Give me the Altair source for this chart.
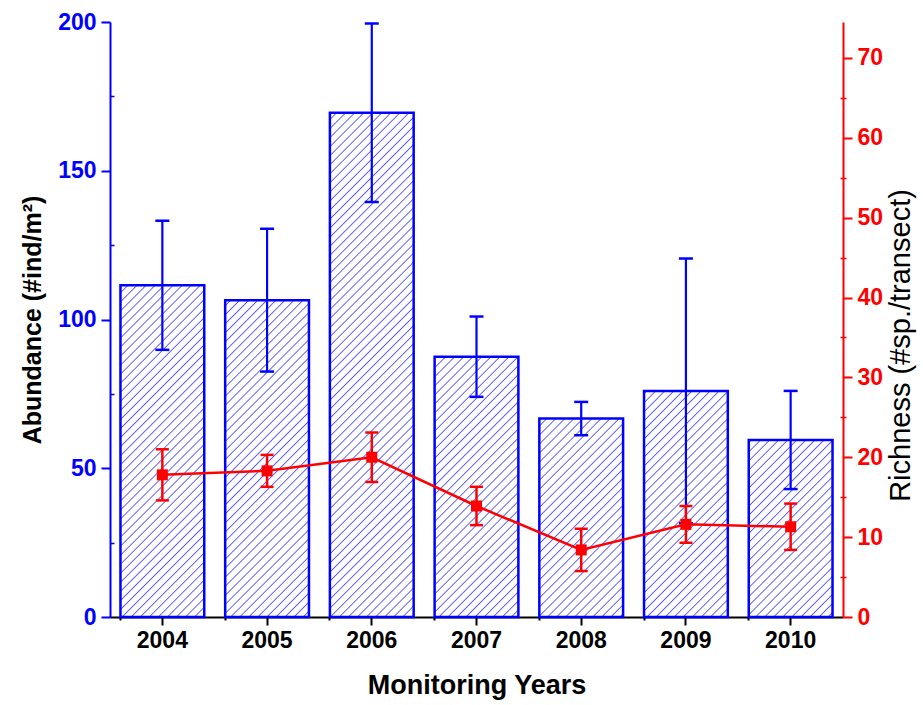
import altair as alt
import pandas as pd
import altair.utils.html as _html

# ---------------- data ----------------
years = ["2004", "2005", "2006", "2007", "2008", "2009", "2010"]
abundance_mean = [111.5, 106.5, 169.5, 87.5, 66.7, 76.0, 59.5]
abundance_err = [21.7, 24.0, 30.0, 13.5, 5.6, 44.5, 16.5]
richness_mean = [17.8, 18.3, 20.0, 13.9, 8.4, 11.6, 11.3]
richness_err = [3.2, 2.0, 3.1, 2.4, 2.65, 2.3, 2.9]

abundance_ticks = [0, 50, 100, 150, 200]
abundance_minor = [25, 75, 125, 175]
richness_ticks = [0, 10, 20, 30, 40, 50, 60, 70]
richness_minor = [5, 15, 25, 35, 45, 55, 65]

df = pd.DataFrame({
    "year": years,
    "abundance": abundance_mean,
    "a_err": abundance_err,
    "richness": richness_mean,
    "r_err": richness_err,
})
df["a_lo"] = df["abundance"] - df["a_err"]
df["a_hi"] = df["abundance"] + df["a_err"]
df["r_lo"] = df["richness"] - df["r_err"]
df["r_hi"] = df["richness"] + df["r_err"]

# ---------------- hatch pattern (SVG defs added to the page) ----------------
HATCH_DEFS = (
    '<svg width="0" height="0" style="position:absolute;left:0;top:0">'
    '<defs><pattern id="hatch" patternUnits="userSpaceOnUse" width="6.4" height="6.4" '
    'patternTransform="rotate(45)">'
    '<line x1="0" y1="-1" x2="0" y2="8" stroke="#0000ff" stroke-width="1.2"/>'
    '</pattern></defs></svg>'
)
_orig_tpl = _html.TEMPLATES["standard"]


class _HatchTemplate:
    def render(self, *args, **kwargs):
        page = _orig_tpl.render(*args, **kwargs)
        if "<body>" in page:
            return page.replace("<body>", "<body>\n" + HATCH_DEFS, 1)
        return HATCH_DEFS + page


_html.TEMPLATES["standard"] = _HatchTemplate()

# ---------------- styling ----------------
BLUE = "#0000ff"
RED = "#ff0000"
SANS = "'Liberation Sans', Arial, sans-serif"

xscale = alt.Scale(paddingInner=0.2, paddingOuter=0.1)
yscale_left = alt.Scale(domain=[0, 200], nice=False, zero=True)
yscale_right = alt.Scale(domain=[0, 74.5], nice=False, zero=True)

x_main = alt.Axis(
    orient="bottom", title="Monitoring Years", labelAngle=0, grid=False,
    domainColor="black", domainWidth=2, tickColor="black", tickWidth=2, tickSize=8,
    labelFont=SANS, labelFontSize=23, labelFontWeight="bold", labelColor="black",
    labelPadding=4, titleFont=SANS, titleFontSize=27, titleFontWeight="bold",
    titleColor="black", titlePadding=20,
)
x_minor = alt.Axis(
    orient="bottom", title=None, labels=False, domain=False, grid=False,
    tickColor="black", tickWidth=2, tickSize=3, bandPosition=0,
)
y_left_main = alt.Axis(
    orient="left", values=abundance_ticks, title="Abundance (#ind/m²)", grid=False,
    domainColor=BLUE, domainWidth=2, tickColor=BLUE, tickWidth=2, tickSize=9,
    labelColor=BLUE, labelFont=SANS, labelFontSize=23, labelFontWeight="bold",
    labelPadding=5, labelFlush=False, labelOverlap=False,
    titleColor="black", titleFont=SANS, titleFontSize=25, titleFontWeight="bold",
    titlePadding=12,
)
y_left_minor = alt.Axis(
    orient="left", values=abundance_minor, title=None, labels=False, domain=False,
    grid=False, tickColor=BLUE, tickWidth=1.5, tickSize=4, offset=-4,
)
y_right_main = alt.Axis(
    orient="right", values=richness_ticks, title="Richness (#sp./transect)", grid=False,
    domainColor=RED, domainWidth=2, tickColor=RED, tickWidth=2, tickSize=9,
    labelColor=RED, labelFont=SANS, labelFontSize=23, labelFontWeight="bold",
    labelPadding=5, labelFlush=False, labelOverlap=False,
    titleColor="black", titleFont=SANS, titleFontSize=29, titleFontWeight="normal",
    titleAngle=270, titlePadding=33, titleY=323,
)
y_right_minor = alt.Axis(
    orient="right", values=richness_minor, title=None, labels=False, domain=False,
    grid=False, tickColor=RED, tickWidth=1.5, tickSize=6, offset=-3,
)

base = alt.Chart(df)

# ---------------- abundance (left) ----------------
bars = base.mark_bar(fill="url(#hatch)", stroke=BLUE, strokeWidth=2.5, fillOpacity=1).encode(
    x=alt.X("year:N", scale=xscale, axis=x_main),
    y=alt.Y("abundance:Q", scale=yscale_left, axis=y_left_main),
)
a_rule = base.mark_rule(color=BLUE, strokeWidth=2.2).encode(
    x=alt.X("year:N", scale=xscale, axis=x_minor),
    y=alt.Y("a_lo:Q", scale=yscale_left, axis=y_left_minor),
    y2="a_hi:Q",
)
a_caps = base.transform_fold(["a_lo", "a_hi"], as_=["which", "val"]).mark_tick(
    color=BLUE, orient="horizontal", size=14, thickness=2.5, opacity=1
).encode(
    x=alt.X("year:N", scale=xscale, axis=None),
    y=alt.Y("val:Q", scale=yscale_left, axis=None),
)
left = alt.layer(bars, a_rule, a_caps).resolve_axis(y="independent", x="independent")

# ---------------- richness (right) ----------------
r_line = base.mark_line(color=RED, strokeWidth=2.5).encode(
    x=alt.X("year:N", scale=xscale, axis=None, sort=years),
    y=alt.Y("richness:Q", scale=yscale_right, axis=y_right_main),
)
r_rule = base.mark_rule(color=RED, strokeWidth=2.5).encode(
    x=alt.X("year:N", scale=xscale, axis=None),
    y=alt.Y("r_lo:Q", scale=yscale_right, axis=y_right_minor),
    y2="r_hi:Q",
)
r_caps = base.transform_fold(["r_lo", "r_hi"], as_=["which", "val"]).mark_tick(
    color=RED, orient="horizontal", size=13, thickness=2.5, opacity=1
).encode(
    x=alt.X("year:N", scale=xscale, axis=None),
    y=alt.Y("val:Q", scale=yscale_right, axis=None),
)
r_pts = base.mark_square(color=RED, size=121, opacity=1, filled=True).encode(
    x=alt.X("year:N", scale=xscale, axis=None),
    y=alt.Y("richness:Q", scale=yscale_right, axis=None),
)
right = alt.layer(r_line, r_rule, r_caps, r_pts).resolve_axis(y="independent")

chart = (
    alt.layer(left, right)
    .resolve_scale(y="independent")
    .properties(
        width=733,
        height=595,
        autosize=alt.AutoSizeParams(type="none"),
        padding={"left": 110, "top": 22, "right": 80, "bottom": 88},
        background="white",
    )
    .configure_view(stroke=None)
    .configure_axis(grid=False)
)

chart.save("out.html", embed_options={"renderer": "svg", "actions": False})
